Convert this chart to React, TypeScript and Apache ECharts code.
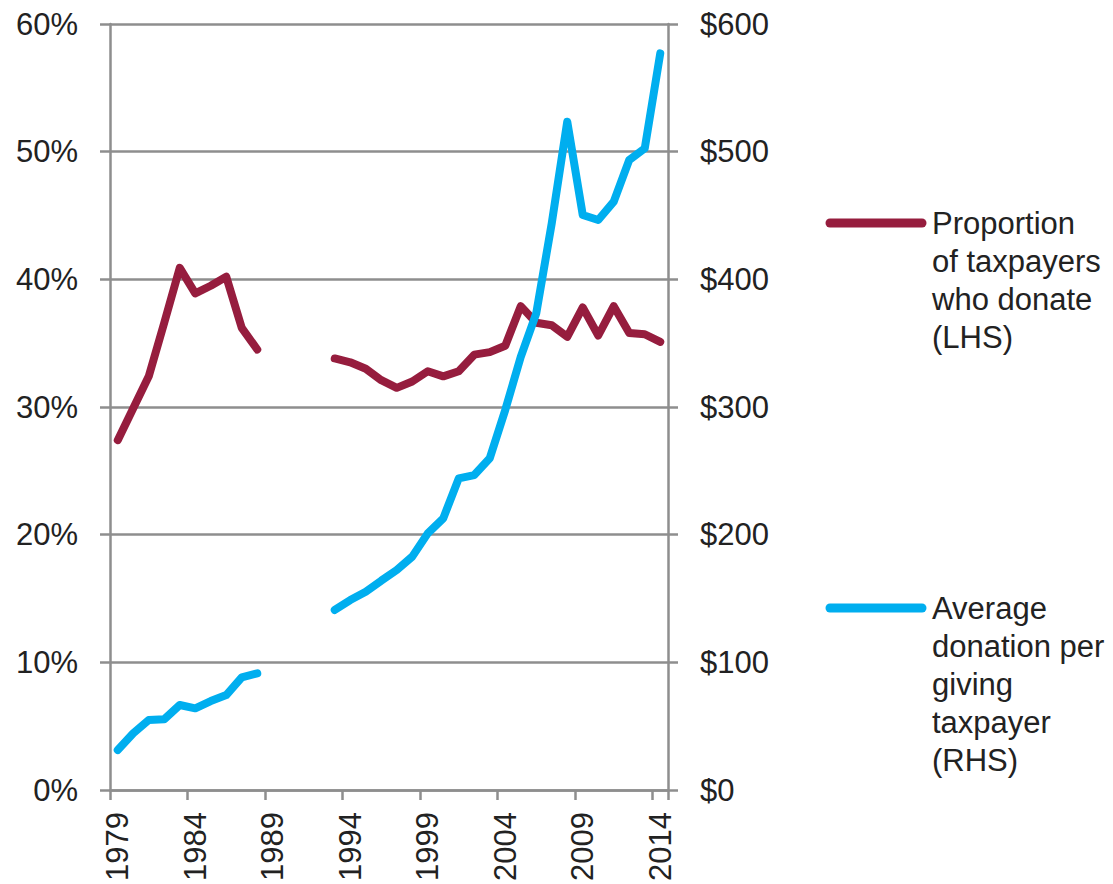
import React, { useEffect, useRef } from "react";
import * as echarts from "echarts";

const years = [
  "1979", "1980", "1981", "1982", "1983", "1984", "1985", "1986", "1987", "1988",
  "1989", "1990", "1991", "1992", "1993", "1994", "1995", "1996", "1997", "1998",
  "1999", "2000", "2001", "2002", "2003", "2004", "2005", "2006", "2007", "2008",
  "2009", "2010", "2011", "2012", "2013", "2014",
];

// Proportion of taxpayers who donate (%), LHS
const proportion = [
  27.4, 29.9, 32.4, 36.6, 40.9, 38.9, 39.5, 40.2, 36.2, 34.5,
  null, null, null, null,
  33.8, 33.5, 33.0, 32.1, 31.5, 32.0, 32.8, 32.4, 32.8, 34.1, 34.3,
  34.8, 37.9, 36.6, 36.4, 35.5, 37.8, 35.6, 37.9, 35.8, 35.7, 35.1,
];

// Average donation per giving taxpayer ($), RHS
const donation = [
  31.3, 44.4, 54.8, 55.4, 66.6, 64.0, 69.7, 74.4, 88.3, 91.4,
  null, null, null, null,
  141, 148.8, 155.3, 164, 172.3, 182.8, 201, 212.8, 244.1, 246.7, 259.8,
  297.7, 339.3, 373.4, 443.9, 523.5, 450.4, 446.5, 460.8, 493.5, 502.6, 577,
];

const leftTicks = { min: 0, max: 60, interval: 10 };
const rightTicks = { min: 0, max: 600, interval: 100 };

const seriesNames = [
  "Proportion\nof taxpayers\nwho donate\n(LHS)",
  "Average\ndonation per\ngiving\ntaxpayer\n(RHS)",
];

const RED = "#961d3e";
const BLUE = "#00aeef";
const GRAY = "#8e8e8e";
const FONT = "Liberation Sans";
const FS = 31;

export default function App() {
  const ref = useRef<HTMLDivElement>(null);

  useEffect(() => {
    if (!ref.current) return;
    const chart = echarts.init(ref.current, undefined, { renderer: "svg" });
    const axisLine = { show: true, lineStyle: { color: GRAY, width: 2.5 } };
    const axisTick = { show: true, length: 10, lineStyle: { color: GRAY, width: 2.5 } };
    const label = { color: "#222", fontFamily: FONT, fontSize: FS };
    chart.setOption({
      animation: false,
      grid: { left: 110, right: 445, top: 24, bottom: 94, containLabel: false },
      xAxis: {
        type: "category",
        data: years,
        boundaryGap: true,
        axisLine,
        axisTick: { ...axisTick, interval: 4, alignWithLabel: false },
        axisLabel: { ...label, interval: 4, rotate: 90, margin: 22 },
        splitLine: { show: false },
      },
      yAxis: [
        {
          type: "value",
          position: "left",
          ...leftTicks,
          axisLine,
          axisTick,
          axisLabel: { ...label, margin: 32, formatter: "{value}%" },
          splitLine: { show: true, lineStyle: { color: GRAY, width: 2.5 } },
        },
        {
          type: "value",
          position: "right",
          ...rightTicks,
          axisLine,
          axisTick,
          axisLabel: { ...label, margin: 32, formatter: "${value}" },
          splitLine: { show: false },
        },
      ],
      series: [
        {
          name: seriesNames[0],
          type: "line",
          yAxisIndex: 0,
          data: proportion,
          showSymbol: false,
          connectNulls: false,
          lineStyle: { color: RED, width: 8, cap: "round", join: "round" },
          itemStyle: { color: RED },
        },
        {
          name: seriesNames[1],
          type: "line",
          yAxisIndex: 1,
          data: donation,
          showSymbol: false,
          connectNulls: false,
          lineStyle: { color: BLUE, width: 8, cap: "round", join: "round" },
          itemStyle: { color: BLUE },
        },
      ],
      graphic: [
        {
          type: "line",
          shape: { x1: 830, y1: 223, x2: 922, y2: 223 },
          style: { stroke: RED, lineWidth: 9, lineCap: "round" },
        },
        {
          type: "text",
          x: 932,
          y: 204,
          style: {
            text: seriesNames[0],
            fontFamily: FONT,
            fontSize: FS,
            lineHeight: 38,
            fill: "#222",
            align: "left",
            verticalAlign: "top",
          },
        },
        {
          type: "line",
          shape: { x1: 830, y1: 608, x2: 922, y2: 608 },
          style: { stroke: BLUE, lineWidth: 9, lineCap: "round" },
        },
        {
          type: "text",
          x: 932,
          y: 589,
          style: {
            text: seriesNames[1],
            fontFamily: FONT,
            fontSize: FS,
            lineHeight: 38,
            fill: "#222",
            align: "left",
            verticalAlign: "top",
          },
        },
      ],
    });
    return () => chart.dispose();
  }, []);

  return (
    <div
      ref={ref}
      style={{ position: "fixed", left: 0, top: 0, width: 1113, height: 884, background: "#fff" }}
    />
  );
}
